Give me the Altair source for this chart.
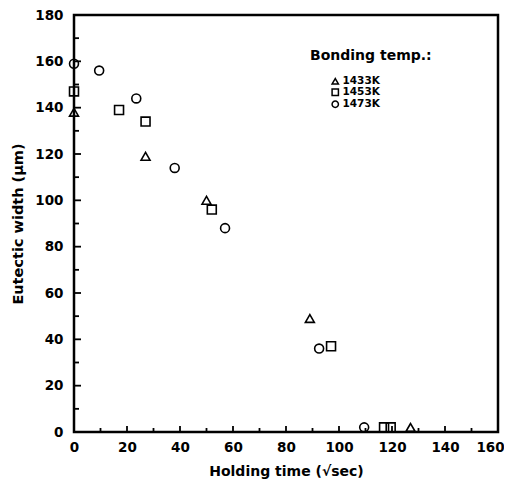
import altair as alt
import pandas as pd

# Data
tri_x = [0, 27, 50, 89, 127]
tri_y = [138, 119, 100, 49, 2]
sq_x = [0, 17, 27, 52, 97, 117, 119.5]
sq_y = [147, 139, 134, 96, 37, 2, 2]
circ_x = [0, 9.5, 23.5, 38, 57, 92.5, 109.5]
circ_y = [159, 156, 144, 114, 88, 36, 2]
series_names = ["1433K", "1453K", "1473K"]

x_ticks_major = [20, 40, 60, 80, 100, 120, 140]
x_ticks_minor = [10, 30, 50, 70, 90, 110, 130, 150]
y_ticks_major = [20, 40, 60, 80, 100, 120, 140, 160]
y_ticks_minor = [10, 30, 50, 70, 90, 110, 130, 150, 170]

W, H = 424, 417
FONT = "DejaVu Sans"

rows = []
for name, xs, ys in zip(series_names, [tri_x, sq_x, circ_x], [tri_y, sq_y, circ_y]):
    for x, y in zip(xs, ys):
        rows.append({"t": x, "w": y, "temp": name})
df = pd.DataFrame(rows)

xscale = alt.Scale(domain=[0, 160], nice=False, zero=False)
yscale = alt.Scale(domain=[0, 180], nice=False, zero=False)

xaxis = alt.Axis(values=list(range(0, 161, 20)), ticks=False, tickSize=0, domain=False, grid=False,
                 labelFont=FONT, labelFontWeight="bold", labelFontSize=13.5, labelColor="black",
                 labelPadding=8, labelOffset=alt.expr("datum.value == 160 ? -8 : 0"),
                 title="Holding time (√sec)", titleFont=FONT, titleFontWeight="bold",
                 titleFontSize=14, titleColor="black", titlePadding=11, labelFlush=False)
yaxis = alt.Axis(values=list(range(0, 181, 20)), ticks=False, tickSize=0, domain=False, grid=False,
                 labelFont=FONT, labelFontWeight="bold", labelFontSize=13.5, labelColor="black",
                 labelPadding=11, title="Eutectic width (μm)", titleFont=FONT, titleFontWeight="bold",
                 titleFontSize=14.5, titleColor="black", titlePadding=9, labelFlush=False)

points = alt.Chart(df).mark_point(filled=False, strokeWidth=1.6, size=80, color="black", opacity=1).encode(
    x=alt.X("t:Q", scale=xscale, axis=xaxis),
    y=alt.Y("w:Q", scale=yscale, axis=yaxis),
    shape=alt.Shape("temp:N", scale=alt.Scale(domain=series_names, range=["triangle-up", "square", "circle"]),
                    legend=alt.Legend(orient="none", legendX=256, legendY=61, title=None,
                                      labelFont=FONT, labelFontWeight="bold", labelFontSize=10.5,
                                      labelColor="black", symbolSize=40, symbolStrokeWidth=1.5,
                                      symbolStrokeColor="black", symbolFillColor="transparent",
                                      rowPadding=-2.5, labelOffset=2, padding=0)),
)

def ticks_x(vals, length):
    return alt.Chart(pd.DataFrame({"v": vals})).mark_rule(color="black", strokeWidth=1.8).encode(
        x=alt.X("v:Q", scale=xscale), y=alt.value(H), y2=alt.value(H - length))

def ticks_y(vals, length):
    return alt.Chart(pd.DataFrame({"v": vals})).mark_rule(color="black", strokeWidth=1.8).encode(
        y=alt.Y("v:Q", scale=yscale), x=alt.value(0), x2=alt.value(length))

legend_title = alt.Chart(pd.DataFrame({"s": ["Bonding temp.:"]})).mark_text(
    align="left", baseline="alphabetic", font=FONT, fontWeight="bold", fontSize=14, color="black"
).encode(x=alt.value(236), y=alt.value(45), text="s:N")

chart = alt.layer(
    ticks_x(x_ticks_major, 6), ticks_x(x_ticks_minor, 4),
    ticks_y(y_ticks_major, 7), ticks_y(y_ticks_minor, 5),
    points, legend_title
).properties(
    width=W, height=H, autosize="none",
    padding={"left": 66, "top": 7, "right": 6, "bottom": 49},
).configure(background="white").configure_view(stroke="black", strokeWidth=2.5)

chart.save("out.html", embed_options={"renderer": "svg", "actions": False})
